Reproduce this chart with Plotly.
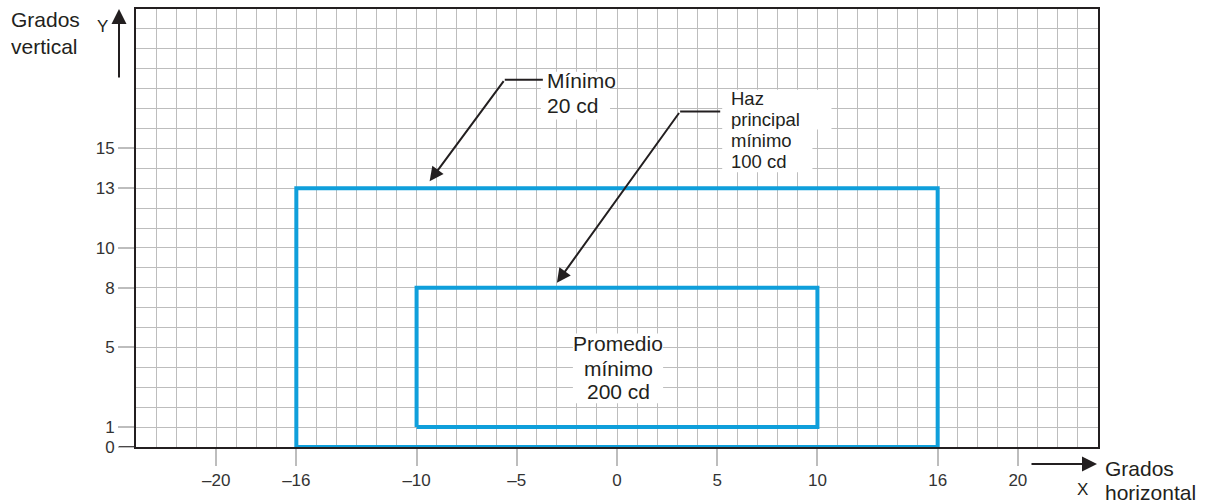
import plotly.graph_objects as go

# ---- data ----
zone_names = ["Mínimo 20 cd", "Promedio mínimo 200 cd"]
zone_x_left = [-16, -10]
zone_x_right = [16, 10]
zone_y_bottom = [0, 1]
zone_y_top = [13, 8]

x_tick_vals = [-20, -16, -10, -5, 0, 5, 10, 16, 20]
x_tick_text = ["–20", "–16", "–10", "–5", "0", "5", "10", "16", "20"]
y_tick_vals = [0, 1, 5, 8, 10, 13, 15]
y_tick_text = ["0", "1", "5", "8", "10", "13", "15"]

x_range = [-24, 24]
y_range = [0, 22]

FONT = "Liberation Sans, Arial, sans-serif"
TXT = "#231f20"
BLUE = "#0f9fdb"
GRID = "#bdbdbd"

fig = go.Figure()

for name, xl, xr, yb, yt in zip(zone_names, zone_x_left, zone_x_right, zone_y_bottom, zone_y_top):
    fig.add_trace(go.Scatter(
        x=[xl, xr, xr, xl, xl],
        y=[yb, yb, yt, yt, yb],
        mode="lines",
        name=name,
        line=dict(color=BLUE, width=4),
        cliponaxis=False,
        hoverinfo="skip",
        showlegend=False,
    ))

axis_common = dict(
    showgrid=True, gridcolor=GRID, gridwidth=1.3,
    zeroline=False,
    showline=True, mirror=True, linecolor=TXT, linewidth=2,
    ticks="outside", tickcolor=GRID, tickwidth=1.5,
    tickfont=dict(family=FONT, size=17, color="#333333"),
    layer="below traces",
    minor=dict(dtick=1, tick0=0, showgrid=True, gridcolor=GRID, gridwidth=1.3, ticks=""),
    fixedrange=True,
)

fig.update_xaxes(range=x_range, tickmode="array", tickvals=x_tick_vals, ticktext=x_tick_text,
                 ticklen=17, **axis_common)
fig.update_yaxes(range=y_range, tickmode="array", tickvals=y_tick_vals, ticktext=y_tick_text,
                 ticklen=16, **axis_common)

# dark tick at y = 0
fig.add_shape(type="line", xref="paper", yref="y", x0=-17/962, x1=0, y0=0, y1=0,
              line=dict(color=TXT, width=1.5))

# white label backgrounds
def white_box(x0, x1, y0, y1):
    fig.add_shape(type="rect", xref="x", yref="y", x0=x0, x1=x1, y0=y0, y1=y1,
                  fillcolor="white", line=dict(width=0), layer="above")

white_box(-3.8, -0.35, 16.45, 18.85)
white_box(5.25, 10.7, 15.95, 17.95)
white_box(5.25, 9.75, 13.8, 15.95)
white_box(-2.2, 2.3, 2.2, 5.7)

# leader horizontal segments
fig.add_shape(type="line", xref="x", yref="y", x0=-5.6, x1=-3.7, y0=18.45, y1=18.45,
              line=dict(color=TXT, width=2))
fig.add_shape(type="line", xref="x", yref="y", x0=3.15, x1=5.15, y0=16.85, y1=16.85,
              line=dict(color=TXT, width=2))

# leader arrows
fig.add_annotation(x=-9.35, y=13.35, ax=-5.6, ay=18.45, xref="x", yref="y", axref="x", ayref="y",
                   text="", showarrow=True, arrowhead=2, arrowsize=1.4, arrowwidth=2, arrowcolor=TXT)
fig.add_annotation(x=-3.0, y=8.25, ax=3.15, ay=16.85, xref="x", yref="y", axref="x", ayref="y",
                   text="", showarrow=True, arrowhead=2, arrowsize=1.4, arrowwidth=2, arrowcolor=TXT)

def label(x, y, text, size, anchor="left", h=None):
    fig.add_annotation(x=x, y=y, xref="x", yref="y", text=text, showarrow=False,
                       xanchor=anchor, yanchor="middle", borderpad=0, height=h,
                       font=dict(family=FONT, size=size, color=TXT))

label(-3.55, 18.4, "Mínimo", 21, h=23)
label(-3.55, 17.15, "20 cd", 21, h=23)
label(5.65, 17.5, "Haz", 18.5, h=19)
label(5.65, 16.45, "principal", 18.5, h=19)
label(5.65, 15.4, "mínimo", 18.5, h=19)
label(5.65, 14.35, "100 cd", 18.5, h=19)
label(0.05, 5.2, "Promedio", 21, "center", h=23)
label(0.05, 3.95, "mínimo", 21, "center", h=22)
label(0.05, 2.8, "200 cd", 21, "center", h=22)

def paper_text(px, py, text, size, anchor="left", h=None):
    fig.add_annotation(x=(px - 136) / 962, y=(447 - py) / 440, xref="paper", yref="paper",
                       text=text, showarrow=False, xanchor=anchor, yanchor="middle",
                       borderpad=0, height=h, font=dict(family=FONT, size=size, color=TXT))

# axis titles
paper_text(10, 17, "Grados", 21, h=24)
paper_text(10, 44, "vertical", 21, h=24)
paper_text(1104, 468, "Grados", 21, h=22)
paper_text(1104, 492, "horizontal", 21, h=20)
paper_text(102, 25, "Y", 17, "center")
paper_text(1082, 490, "X", 17, "center")

# axis arrows
fig.add_annotation(x=(119 - 136) / 962, y=(447 - 7) / 440, xref="paper", yref="paper",
                   ax=0, ay=70, text="", showarrow=True, arrowhead=2, arrowsize=1.5,
                   arrowwidth=2, arrowcolor=TXT)
fig.add_annotation(x=(1097 - 136) / 962, y=(447 - 464) / 440, xref="paper", yref="paper",
                   ax=-67, ay=0, text="", showarrow=True, arrowhead=2, arrowsize=1.5,
                   arrowwidth=2, arrowcolor=TXT)

fig.update_layout(
    width=1211, height=503,
    margin=dict(l=136, r=113, t=7, b=56),
    paper_bgcolor="white", plot_bgcolor="white",
    showlegend=False,
)

fig.write_html("out.html", config={"displayModeBar": False},
               post_script="document.body.style.margin='0';document.body.style.overflow='hidden';")
